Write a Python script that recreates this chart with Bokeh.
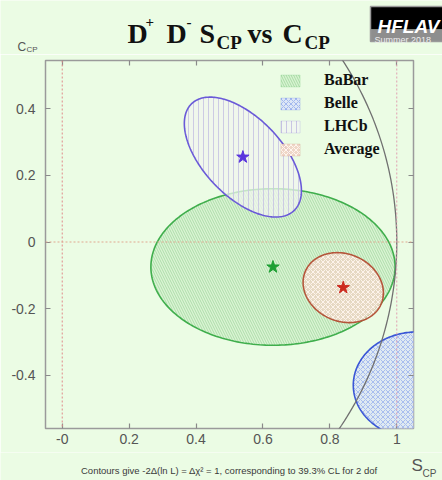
import numpy as np
from bokeh.plotting import figure
from bokeh.layouts import column
from bokeh.models import Span, Legend, LegendItem, FixedTicker, LinearAxis, Range1d
from bokeh.core.properties import value
from bokeh.embed import file_html
from bokeh.resources import INLINE

# ---------------- data ----------------
experiments = ["BaBar", "Belle", "LHCb", "Average"]
s_cp = [0.63, 1.06, 0.54, 0.84]
c_cp = [-0.075, -0.43, 0.255, -0.137]
sigma_s = [0.365, 0.19, 0.175, 0.12]
sigma_c = [0.235, 0.16, 0.18, 0.105]
rho = [0.0, 0.0, -0.56, -0.15]
show_star = [True, False, True, True]

x_ticks = [0, 0.2, 0.4, 0.6, 0.8, 1]
x_tick_labels = ["-0", "0.2", "0.4", "0.6", "0.8", "1"]
y_ticks = [-0.4, -0.2, 0, 0.2, 0.4]
y_tick_labels = ["-0.4", "-0.2", "0", "0.2", "0.4"]

title_parts = ["D", "+", "D", "-", "S", "CP", "vs", "C", "CP"]
footer_text = "Contours give -2\u0394(ln L) = \u0394\u03c7\u00b2 = 1, corresponding to 39.3% CL for 2 dof"
logo_text = "HFLAV"
logo_sub = "Summer 2018"

# ---------------- style ----------------
BG = "#ebfce4"
line_colors = ["#3fae4c", "#3a56d6", "#6a5ad8", "#b4553a"]
fill_colors = ["#d6f2cf", "#dbe4f7", "#f1f6ef", "#f0d3c3"]
hatch_colors = ["#a9dca6", "#a3b8ee", "#c9c6e3", "#fff6f0"]
hatch_patterns = ["\\", "x", "|", "x"]
star_colors = ["#1ea034", "#3a56d6", "#5a35dd", "#cc2a1e"]

W = 442
TOP_H = 54          # title strip: y 0..54
MAIN_TOP, MAIN_BOT = 54, 452
FOOT_H = 480 - MAIN_BOT
FRAME_L, FRAME_R, FRAME_T, FRAME_B = 45, 413, 60, 428
XR = (-0.05, 1.05)
YR = (-0.56, 0.545)


def strip(height, y0, y1):
    f = figure(width=W, height=height, x_range=Range1d(0, W), y_range=Range1d(y1, y0),
               output_backend="svg", toolbar_location=None, title=None,
               x_axis_location=None, y_axis_location=None,
               min_border=0, background_fill_color=BG, border_fill_color=BG,
               outline_line_color=None, frame_align=False)
    f.grid.visible = False
    return f


# ---------------- title strip ----------------
top = strip(TOP_H, 0, TOP_H)

# title pieces: (x px, baseline px, size)
tp_x = [127, 145, 166, 186, 199, 216, 247, 282, 304]
tp_y = [33, 21, 33, 21, 33, 42, 33, 33, 42]
tp_s = ["28px", "15px", "28px", "15px", "28px", "19px", "28px", "28px", "19px"]
for txt, x, y, s in zip(title_parts, tp_x, tp_y, tp_s):
    top.text(x=[x], y=[y], text=[txt], text_font=value("Liberation Serif"),
             text_font_style="bold", text_font_size=s, text_color="#111111",
             text_baseline="alphabetic", text_align="left")

# y axis title C_CP
top.text(x=[17], y=[46], text=["C"], text_font=value("Liberation Sans"),
         text_font_size="12px", text_color="#555555", text_baseline="alphabetic")
top.text(x=[26], y=[49], text=["CP"], text_font=value("Liberation Sans"),
         text_font_size="8px", text_color="#555555", text_baseline="alphabetic")

# HFLAV logo
top.quad(left=[370], right=[W + 2], top=[6], bottom=[29], fill_color="black", line_color=None)
top.quad(left=[370], right=[W + 2], top=[29], bottom=[41], fill_color="#8e8e8e", line_color=None)
top.quad(left=[370], right=[W + 2], top=[6], bottom=[41], fill_color=None,
         line_color="#9a9a9a", line_width=1.5)
top.text(x=[377], y=[26], text=[logo_text], text_font=value("Liberation Sans"),
         text_font_style="bold italic", text_font_size="19px", text_color="white",
         text_baseline="alphabetic")
top.text(x=[374], y=[39], text=[logo_sub], text_font=value("Liberation Sans"),
         text_font_size="9px", text_color="#eeeeee", text_baseline="alphabetic")

# ---------------- main plot ----------------
p = figure(width=W, height=MAIN_BOT - MAIN_TOP, x_range=XR, y_range=YR,
           output_backend="svg", toolbar_location=None, title=None,
           min_border_left=FRAME_L, min_border_right=W - FRAME_R,
           min_border_top=FRAME_T - MAIN_TOP, min_border_bottom=MAIN_BOT - FRAME_B,
           background_fill_color=BG, border_fill_color=BG,
           outline_line_color="#9a9a9a", outline_line_width=1.5, frame_align=False)
p.grid.visible = False


def style_axis(ax, labels=True):
    ax.axis_line_color = None
    ax.major_tick_in = 5
    ax.major_tick_out = 0
    ax.minor_tick_line_color = None
    ax.major_tick_line_color = "#8a8a8a"
    ax.major_tick_line_width = 1.2
    if labels:
        ax.major_label_text_font = "Liberation Sans"
        ax.major_label_text_font_size = "14px"
        ax.major_label_text_color = "#555555"
    else:
        ax.major_label_text_font_size = "0px"
        ax.major_label_text_color = None
        ax.major_label_standoff = 0


p.xaxis.ticker = FixedTicker(ticks=x_ticks)
p.xaxis.major_label_overrides = dict(zip(x_ticks, x_tick_labels))
p.xaxis.major_label_standoff = 5
p.yaxis.ticker = FixedTicker(ticks=y_ticks)
p.yaxis.major_label_overrides = dict(zip(y_ticks, y_tick_labels))
p.yaxis.major_label_standoff = 10
style_axis(p.xaxis[0])
style_axis(p.yaxis[0])

top_ax = LinearAxis(ticker=FixedTicker(ticks=x_ticks))
right_ax = LinearAxis(ticker=FixedTicker(ticks=y_ticks))
style_axis(top_ax, labels=False)
style_axis(right_ax, labels=False)
p.add_layout(top_ax, "above")
p.add_layout(right_ax, "right")

# contours (Delta chi2 = 1 ellipses from centre, errors and correlation)
t = np.linspace(0, 2 * np.pi, 240)
order = [1, 0, 2, 3]
renderers = {}
for i in order:
    ex = s_cp[i] + sigma_s[i] * np.cos(t)
    ey = c_cp[i] + sigma_c[i] * (rho[i] * np.cos(t) + np.sqrt(1 - rho[i] ** 2) * np.sin(t))
    p.patch(ex, ey, fill_color=fill_colors[i], fill_alpha=0.75,
            hatch_pattern=hatch_patterns[i], hatch_color=hatch_colors[i],
            hatch_alpha=0.9, hatch_scale=5, hatch_weight=1,
            line_color=line_colors[i], line_width=1.6)
    # hidden proxy for the legend swatch (no strong outline)
    proxy = p.patch(ex, ey, fill_color=fill_colors[i], fill_alpha=0.9,
                    hatch_pattern=hatch_patterns[i], hatch_color=hatch_colors[i],
                    hatch_alpha=1.0, hatch_scale=5, hatch_weight=1,
                    line_color=line_colors[i], line_alpha=0.15, visible=False)
    renderers[i] = proxy

# physical boundary S^2 + C^2 = 1
phi = np.linspace(0, 2 * np.pi, 400)
p.line(np.cos(phi), np.sin(phi), line_color="#707070", line_width=1.3)

# reference lines
p.add_layout(Span(location=0, dimension="height", line_color="#e08a8a",
                  line_dash="2 2", line_width=1))
p.add_layout(Span(location=1, dimension="height", line_color="#e0a0b0",
                  line_dash="2 2", line_width=1))
p.add_layout(Span(location=0, dimension="width", line_color="#e0a890",
                  line_dash="2 2", line_width=1))

# central values
sx = [s for s, f in zip(s_cp, show_star) if f]
sy = [c for c, f in zip(c_cp, show_star) if f]
sc = [c for c, f in zip(star_colors, show_star) if f]
p.scatter(sx, sy, marker="star", size=13, fill_color=sc, line_color=sc)

# legend
items = [LegendItem(label=name, renderers=[renderers[i]]) for i, name in enumerate(experiments)]
leg = Legend(items=items, location=(233, 270), padding=0, margin=0, spacing=5,
             glyph_width=24, glyph_height=15, label_height=15, label_standoff=22,
             label_text_font="Liberation Serif", label_text_font_style="bold",
             label_text_font_size="16px", label_text_color="#111111",
             background_fill_alpha=0, border_line_alpha=0,
             inactive_fill_alpha=0, click_policy="none")
p.add_layout(leg, "center")

# ---------------- footer strip ----------------
foot = strip(FOOT_H, MAIN_BOT, 480)
foot.text(x=[411], y=[465], text=["S"], text_font=value("Liberation Sans"),
          text_font_size="17px", text_color="#555555", text_baseline="alphabetic")
foot.text(x=[422], y=[473], text=["CP"], text_font=value("Liberation Sans"),
          text_font_size="10px", text_color="#555555", text_baseline="alphabetic")
foot.text(x=[229], y=[470], text=[footer_text], text_font=value("Liberation Sans"),
          text_font_size="9.5px", text_color="#3a3a3a", text_baseline="alphabetic",
          text_align="center")

layout = column(top, p, foot, spacing=0)
open("out.html", "w").write(file_html(layout, INLINE))
